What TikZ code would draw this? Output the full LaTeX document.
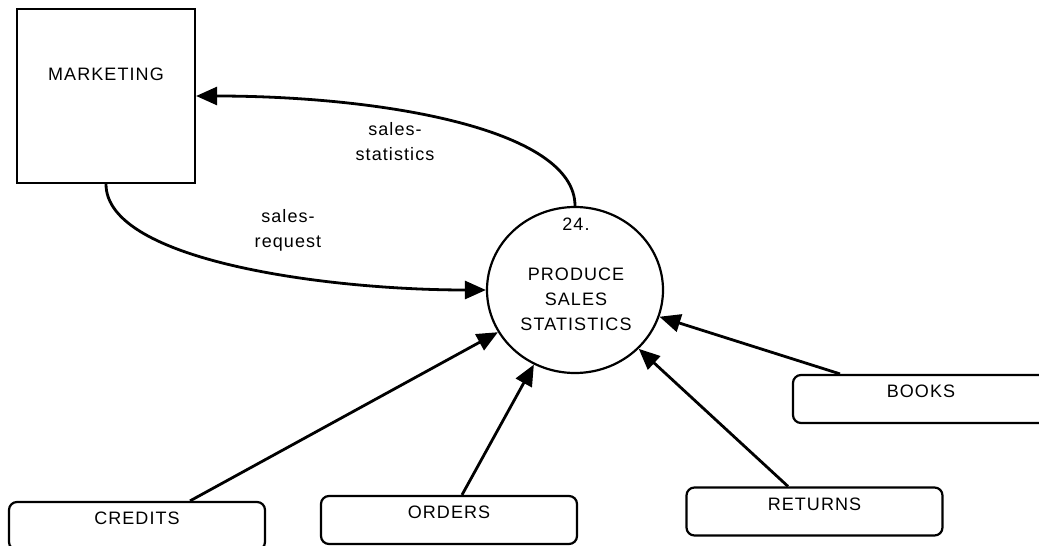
\documentclass[tikz,border=0pt]{standalone}
\usepackage{fontspec}
\setmainfont{Liberation Sans}[LetterSpace=6.0]
\usepackage{tikz}
\usetikzlibrary{arrows.meta,shapes.geometric}

\tikzset{
  mktbox/.style={draw, line width=2.2pt, minimum width=178pt, minimum height=174pt, inner sep=0pt},
  procshape/.style={draw, ellipse, line width=2.2pt, minimum width=176pt, minimum height=166pt, inner sep=0pt},
  storebox/.style={draw, line width=2.2pt, rounded corners=8pt, minimum width=256pt, minimum height=48pt,
    inner sep=0pt, text height=13pt, text depth=16pt},
  flow/.style={line width=2.8pt, -{Triangle[length=21pt,width=18pt]}},
  flowlabel/.style={align=center, inner sep=0pt}
}

\begin{document}
\begin{tikzpicture}[x=1pt,y=-1pt]
    \fontsize{18}{25}\selectfont
    \useasboundingbox (0,0) rectangle (1039,546);
    % external entity
    \node[mktbox, label={[anchor=north, yshift=-60pt, inner sep=0pt]north:MARKETING}] (mkt) at (106,96) {};
    % process
    \node[procshape] (proc) at (575,290) {};
    \node (procnum) at (576,224) {24.};
    \node[align=center, inner sep=0pt] (proctext) at (576,299) {PRODUCE\\SALES\\STATISTICS};
    % data stores
    \node[storebox] (credits) at (137,526) {CREDITS};
    \node[storebox] (orders) at (449,520) {ORDERS};
    \node[storebox] (returns) at (814.5,511.5) {RETURNS};
    \node[storebox] (books) at (921,399) {BOOKS};
    % flows
    \draw[flow] (mkt.south) .. controls +(0,77) and +(-157,0) .. (proc.west);
    \draw[flow] (proc.north) .. controls +(0,-77) and +(185,0) .. (mkt.east);
    \node[flowlabel] (reqlabel) at (288,230) {sales-\\request};
    \node[flowlabel] (statlabel) at (395,142) {sales-\\statistics};
    \draw[flow] ([xshift=53pt]credits.north) -- (proc);
    \draw[flow] ([xshift=13pt]orders.north) -- (proc);
    \draw[flow] ([xshift=-26.5pt]returns.north) -- (proc);
    \draw[flow] ([xshift=-81pt]books.north) -- (proc);
\end{tikzpicture}
\end{document}
